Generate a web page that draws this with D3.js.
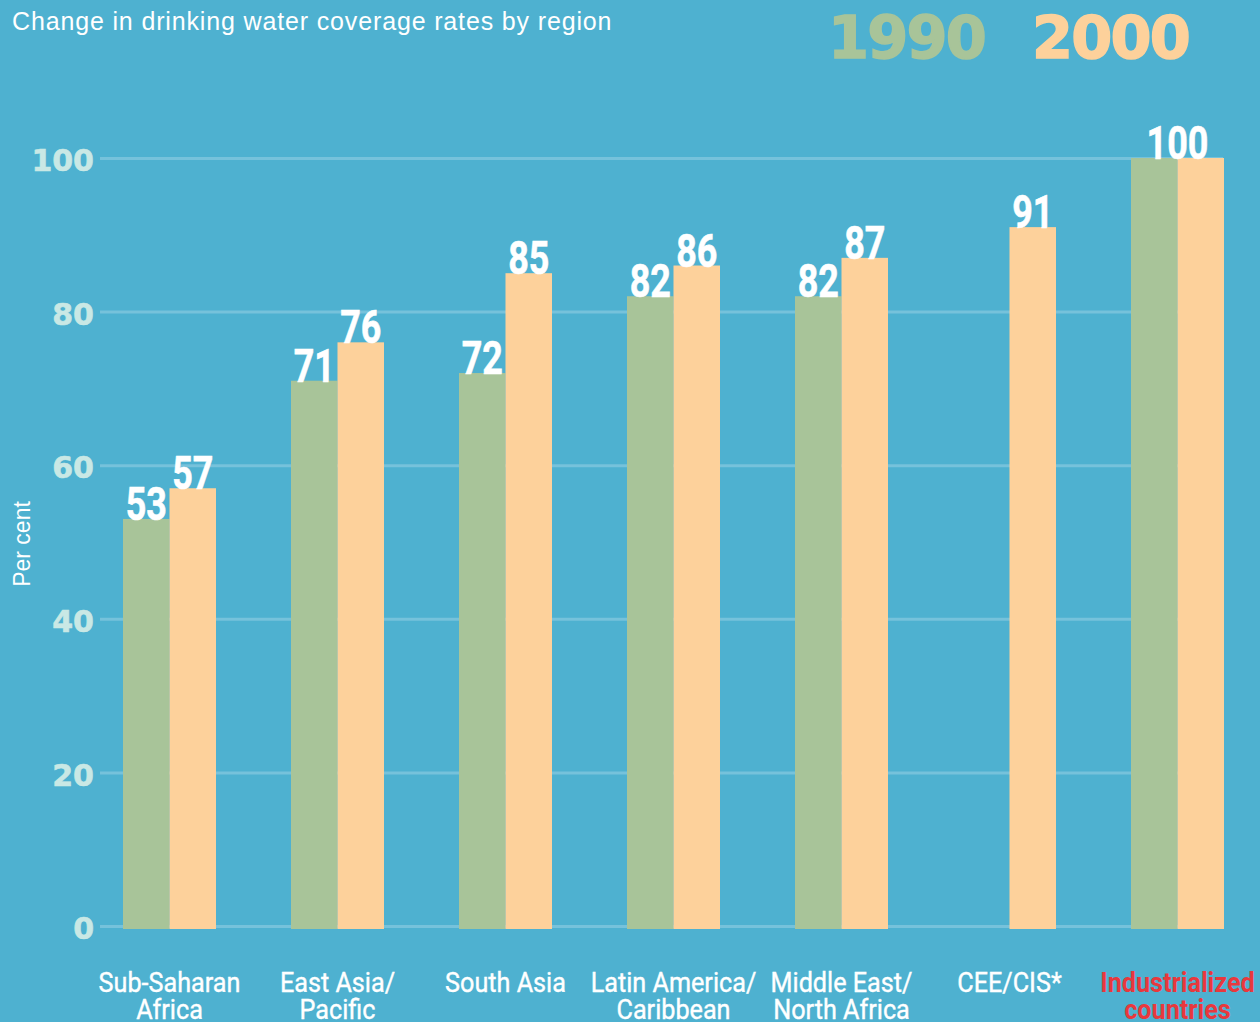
<!DOCTYPE html>
<html>
<head>
<meta charset="utf-8">
<script src="https://cdn.jsdelivr.net/npm/d3@7"></script>
<style>
  html, body { margin: 0; padding: 0; background: #4eb1d0; }
  svg { display: block; }
</style>
</head>
<body>
<svg id="chart" width="1260" height="1022"></svg>
<script>
const title = "Change in drinking water coverage rates by region";
const categories = [
  ["Sub-Saharan", "Africa"],
  ["East Asia/", "Pacific"],
  ["South Asia"],
  ["Latin America/", "Caribbean"],
  ["Middle East/", "North Africa"],
  ["CEE/CIS*"],
  ["Industrialized", "countries"]
];
const seriesNames = ["1990", "2000"];
const values1990 = [53, 71, 72, 82, 82, null, 100];
const values2000 = [57, 76, 85, 86, 87, 91, 100];
const yTicks = [0, 20, 40, 60, 80, 100];
const yLabel = "Per cent";

const W = 1260, H = 1022;
const colors = { bg: "#4eb1d0", s1990: "#a8c499", s2000: "#fdd19b", grid: "#76c2db", tick: "#c9e8e5", red: "#e8383d" };

const svg = d3.select("#chart");
svg.append("rect").attr("width", W).attr("height", H).attr("fill", colors.bg);

const keys = categories.map((c, i) => "c" + i);
const x = d3.scaleBand().domain(keys).range([123, 1224]).paddingInner(75 / 168).paddingOuter(0);
const xs = d3.scaleBand().domain(seriesNames).range([0, x.bandwidth()]).padding(0);
const y = d3.scaleLinear().domain([0, 100]).range([926, 158]);

// title
svg.append("text").attr("x", 12).attr("y", 30)
  .attr("fill", "#ffffff").attr("font-family", "'Liberation Sans', Arial, sans-serif")
  .attr("font-size", 25).attr("letter-spacing", 0.85)
  .text(title);

// legend
const legendX = [828, 1032];
seriesNames.forEach((s, i) => {
  const c = i === 0 ? colors.s1990 : colors.s2000;
  svg.append("text").attr("x", legendX[i]).attr("y", 58)
    .attr("fill", c).attr("stroke", c).attr("stroke-width", 1.5)
    .attr("font-family", "'DejaVu Sans', sans-serif").attr("font-weight", "bold")
    .attr("font-size", 59).attr("letter-spacing", -1.8)
    .text(s);
});

// gridlines + y ticks
const yAxis = d3.axisLeft(y).tickValues(yTicks).tickSize(0).tickPadding(6);
const gAxis = svg.append("g").attr("transform", "translate(100,0)").call(yAxis);
gAxis.select(".domain").remove();
gAxis.selectAll(".tick text")
  .attr("fill", colors.tick).attr("stroke", colors.tick).attr("stroke-width", 0.6)
  .attr("font-family", "'DejaVu Sans', sans-serif")
  .attr("font-weight", "bold").attr("font-size", 30).attr("dy", "0.42em");
gAxis.selectAll(".tick").append("line")
  .attr("x1", 0).attr("x2", 1123).attr("stroke", colors.grid).attr("stroke-width", 3);

// y label
svg.append("text").attr("transform", "translate(30,544) rotate(-90)")
  .attr("text-anchor", "middle").attr("fill", "#ffffff")
  .attr("font-family", "'Liberation Sans', Arial, sans-serif").attr("font-size", 23)
  .text(yLabel);

// bars
const rows = categories.map((c, i) => ({ key: keys[i], v: [values1990[i], values2000[i]] }));
const groups = svg.append("g").selectAll("g").data(rows).join("g")
  .attr("transform", d => `translate(${x(d.key)},0)`);

groups.selectAll("rect").data(d => seriesNames.map((s, j) => ({ s, v: d.v[j] })).filter(e => e.v != null))
  .join("rect")
  .attr("x", e => xs(e.s)).attr("width", xs.bandwidth())
  .attr("y", e => y(e.v)).attr("height", e => y(0) - y(e.v) + 3)
  .attr("fill", e => e.s === "1990" ? colors.s1990 : colors.s2000);

// value labels (condensed via horizontal scale)
groups.each(function (d) {
  const g = d3.select(this);
  const both = d.v[0] != null && d.v[0] === d.v[1];
  const labs = both
    ? [{ cx: x.bandwidth() / 2, v: d.v[1] }]
    : seriesNames.map((s, j) => ({ cx: xs(s) + xs.bandwidth() / 2, v: d.v[j] })).filter(e => e.v != null);
  g.selectAll("g.val").data(labs).join("g").attr("class", "val")
    .attr("transform", e => `translate(${e.cx},${y(e.v) + 1})`)
    .append("text").attr("transform", "scale(0.78,1)")
    .attr("text-anchor", "middle").attr("fill", "#ffffff")
    .attr("stroke", "#ffffff").attr("stroke-width", 0.6)
    .attr("font-family", "Roboto, sans-serif").attr("font-weight", "bold").attr("font-size", 46)
    .text(e => e.v);
});

// category labels
groups.each(function (d, i) {
  const last = i === categories.length - 1;
  const g = d3.select(this).append("g")
    .attr("transform", `translate(${x.bandwidth() / 2},0)`);
  categories[i].forEach((line, k) => {
    g.append("text").attr("transform", `translate(0,${992 + k * 27}) scale(0.9,1)`)
      .attr("text-anchor", "middle")
      .attr("fill", last ? colors.red : "#ffffff")
      .attr("stroke", last ? colors.red : "#ffffff").attr("stroke-width", last ? 0 : 0.4)
      .attr("font-family", "Roboto, sans-serif").attr("font-size", 28)
      .attr("font-weight", last ? "bold" : "normal")
      .text(line);
  });
});
</script>
</body>
</html>
